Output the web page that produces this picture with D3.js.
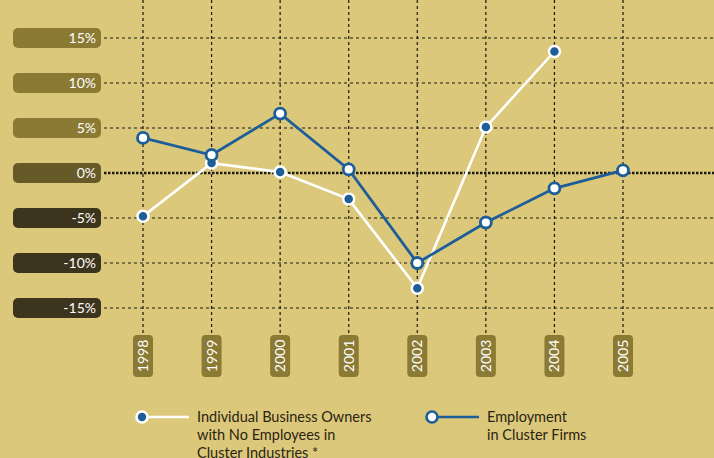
<!DOCTYPE html>
<html>
<head>
<meta charset="utf-8">
<script src="https://cdn.jsdelivr.net/npm/d3@7"></script>
<style>
  body { margin: 0; background: #dcc87b; }
  svg { display: block; font-family: "Lato", "DejaVu Sans", sans-serif; }
</style>
</head>
<body>
<div id="chart"></div>
<script>
var years = [1998, 1999, 2000, 2001, 2002, 2003, 2004, 2005];
var yTicks = [15, 10, 5, 0, -5, -10, -15];
var owners = [-4.8, 1.1, 0.1, -2.9, -12.8, 5.1, 13.5, null];
var employment = [3.9, 2.0, 6.6, 0.4, -10.0, -5.5, -1.7, 0.3];

var width = 714, height = 458;
var blue = "#1d5d98";

var svg = d3.select("#chart").append("svg")
  .attr("width", width)
  .attr("height", height);

svg.append("rect").attr("width", width).attr("height", height).attr("fill", "#dcc87b");

var x = d3.scaleLinear().domain([1998, 2005]).range([143, 623]);
var y = d3.scaleLinear().domain([-15, 15]).range([308, 38]);

// vertical grid
svg.selectAll(".vgrid")
  .data(years)
  .enter().append("line")
  .attr("x1", d => x(d)).attr("x2", d => x(d))
  .attr("y1", 0).attr("y2", 336)
  .attr("stroke", "#1a1a10")
  .attr("stroke-width", 1.2)
  .attr("stroke-dasharray", "3,3");

// horizontal grid
svg.selectAll(".hgrid")
  .data(yTicks)
  .enter().append("line")
  .attr("x1", 104).attr("x2", width)
  .attr("y1", d => y(d)).attr("y2", d => y(d))
  .attr("stroke", "#1a1a10")
  .attr("stroke-width", d => d == 0 ? 2.6 : 1.2)
  .attr("stroke-dasharray", d => d == 0 ? "2.5,1.5" : "3,3");

// y label pills
function pillColor(d) {
  if (d > 0) return "#8b7a34";
  if (d == 0) return "#675a29";
  return "#3d341d";
}
var yl = svg.selectAll(".ylab")
  .data(yTicks)
  .enter().append("g")
  .attr("transform", d => "translate(0," + y(d) + ")");
yl.append("rect")
  .attr("x", 13).attr("y", -10)
  .attr("width", 88).attr("height", 20)
  .attr("rx", 5)
  .attr("fill", pillColor);
yl.append("text")
  .attr("x", 96).attr("y", 5)
  .attr("text-anchor", "end")
  .attr("fill", "#fff")
  .style("font-size", "14px")
  .text(d => d + "%");

// year pills
var xl = svg.selectAll(".xlab")
  .data(years)
  .enter().append("g")
  .attr("transform", d => "translate(" + x(d) + ",0)");
xl.append("rect")
  .attr("x", -10).attr("y", 335)
  .attr("width", 20).attr("height", 42)
  .attr("rx", 4)
  .attr("fill", "#8b7a34");
xl.append("text")
  .attr("transform", "translate(5,356) rotate(-90)")
  .attr("text-anchor", "middle")
  .attr("fill", "#fff")
  .style("font-size", "14px")
  .text(d => d);

// lines
var line = d3.line()
  .defined(d => d[1] != null)
  .x(d => x(d[0]))
  .y(d => y(d[1]));

var ownersPts = years.map((yr, i) => [yr, owners[i]]);
var empPts = years.map((yr, i) => [yr, employment[i]]);

svg.append("path")
  .datum(ownersPts)
  .attr("d", line)
  .attr("fill", "none")
  .attr("stroke", "#fff")
  .attr("stroke-width", 2.6);

svg.selectAll(".ownDot")
  .data(ownersPts.filter(d => d[1] != null))
  .enter().append("circle")
  .attr("cx", d => x(d[0])).attr("cy", d => y(d[1]))
  .attr("r", 5.5)
  .attr("fill", blue)
  .attr("stroke", "#fff")
  .attr("stroke-width", 2.5);

svg.append("path")
  .datum(empPts)
  .attr("d", line)
  .attr("fill", "none")
  .attr("stroke", blue)
  .attr("stroke-width", 2.8);

svg.selectAll(".empDot")
  .data(empPts)
  .enter().append("circle")
  .attr("cx", d => x(d[0])).attr("cy", d => y(d[1]))
  .attr("r", 5.5)
  .attr("fill", "#fff")
  .attr("stroke", blue)
  .attr("stroke-width", 2.8);

// legend
var legend = [
  {x: 142, lines: ["Individual Business Owners", "with No Employees in", "Cluster Industries *"], stroke: "#fff", fill: blue},
  {x: 432, lines: ["Employment", "in Cluster Firms"], stroke: blue, fill: "#fff"}
];
var lg = svg.selectAll(".legend")
  .data(legend)
  .enter().append("g")
  .attr("transform", d => "translate(" + d.x + ",417)");
lg.append("line")
  .attr("x1", 0).attr("x2", 47)
  .attr("stroke", d => d.stroke)
  .attr("stroke-width", 2.6);
lg.append("circle")
  .attr("r", 5.5)
  .attr("fill", d => d.fill)
  .attr("stroke", d => d.stroke)
  .attr("stroke-width", 2.6);
lg.append("text")
  .attr("x", 55)
  .attr("y", 5)
  .attr("fill", "#2a2412")
  .style("font-size", "14.5px")
  .selectAll("tspan")
  .data(d => d.lines)
  .enter().append("tspan")
  .attr("x", 55)
  .attr("dy", (d, i) => i == 0 ? 0 : 18)
  .text(d => d);
</script>
</body>
</html>
